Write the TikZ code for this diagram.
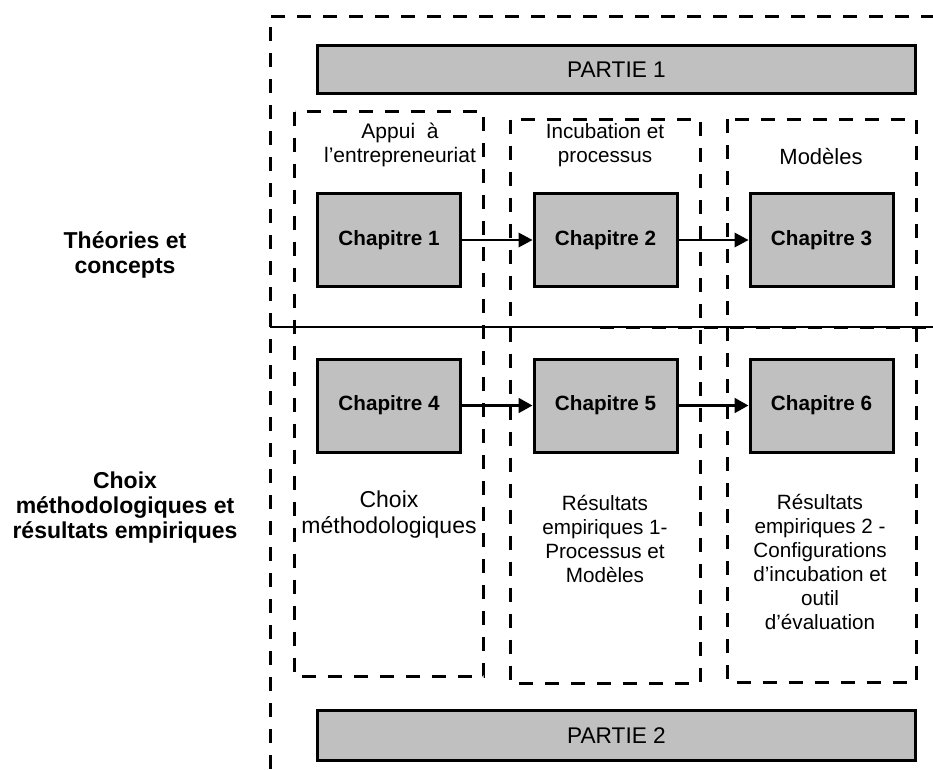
\documentclass[tikz,border=0pt]{standalone}
\usepackage{fontspec}
\setmainfont{Liberation Sans}
\usetikzlibrary{arrows.meta}
\definecolor{boxgray}{HTML}{C0C0C0}
\begin{document}
\begin{tikzpicture}[x=0.75pt,y=-0.75pt,
  chapbox/.style={draw, line width=2.25pt, fill=boxgray, minimum width=107.25pt, minimum height=69.75pt, inner sep=0pt, font=\fontsize{15.5}{18}\selectfont\bfseries},
  partbox/.style={draw, line width=2.25pt, fill=boxgray, minimum width=448.5pt, minimum height=36pt, inner sep=0pt, font=\fontsize{17}{20}\selectfont},
  dashbox/.style={line width=2.25pt, dash pattern=on 10.5pt off 9pt},
  caption/.style={align=center, inner sep=0pt, font=\fontsize{15.5}{18}\selectfont},
  bigcaption/.style={align=center, inner sep=0pt, font=\fontsize{17.25}{19.5}\selectfont},
  sidelabel/.style={align=center, inner sep=0pt, font=\fontsize{17.25}{18.75}\selectfont\bfseries},
  link/.style={-{Triangle[length=10.5pt,width=11pt]}, line width=1.1pt},
  thicklink/.style={-{Triangle[length=10.5pt,width=11pt]}, line width=2.25pt}]

\useasboundingbox (0,0) rectangle (933,769);

% outer dashed frame (open at right and bottom)
\draw[dashbox] (270,769) -- (270,16) -- (933,16);

% divider line
\draw[line width=0.8pt] (270,327) -- (933,327);
\draw[dashbox] (600,327) -- (933,327);

% column dashed boxes
\draw[dashbox] (294.5,111.5) rectangle (483.5,676.5);
\draw[dashbox] (510.5,119.5) rectangle (700,683);
\draw[dashbox] (727.5,119) rectangle (916,682);

% parts
\node[partbox] (p1) at (616.5,69.5) {PARTIE 1};
\node[partbox, minimum height=38pt] (p2) at (616.5,735.5) {PARTIE 2};

% column headings
\node[caption, font=\fontsize{15.75}{18}\selectfont] (h1) at (400,145) {Appui\ \ à\\l’entrepreneuriat};
\node[caption] (h2) at (605,145) {Incubation et\\processus};
\node[caption, font=\fontsize{16.5}{18}\selectfont] (h3) at (821,157) {Modèles};

% chapters
\node[chapbox] (c1) at (389,240) {Chapitre 1};
\node[chapbox] (c2) at (605.5,240) {Chapitre 2};
\node[chapbox] (c3) at (821.5,240) {Chapitre 3};
\node[chapbox] (c4) at (389,405.5) {Chapitre 4};
\node[chapbox] (c5) at (605.5,405.5) {Chapitre 5};
\node[chapbox] (c6) at (821.5,405.5) {Chapitre 6};

\draw[link] (c1) -- (c2);
\draw[link] (c2) -- (c3);
\draw[thicklink] (c4) -- (c5);
\draw[thicklink] (c5) -- (c6);

% captions below
\node[bigcaption] (t4) at (389,515) {Choix\\méthodologiques};
\node[caption] (t5) at (605,539) {Résultats\\empiriques 1-\\Processus et\\Modèles};
\node[caption] (t6) at (820,562) {Résultats\\empiriques 2 -\\Configurations\\d’incubation et\\outil\\d’évaluation};

% side labels
\node[sidelabel] (s1) at (125,255) {Théories et\\concepts};
\node[sidelabel] (s2) at (125,508) {Choix\\méthodologiques et\\résultats empiriques};
\end{tikzpicture}
\end{document}
